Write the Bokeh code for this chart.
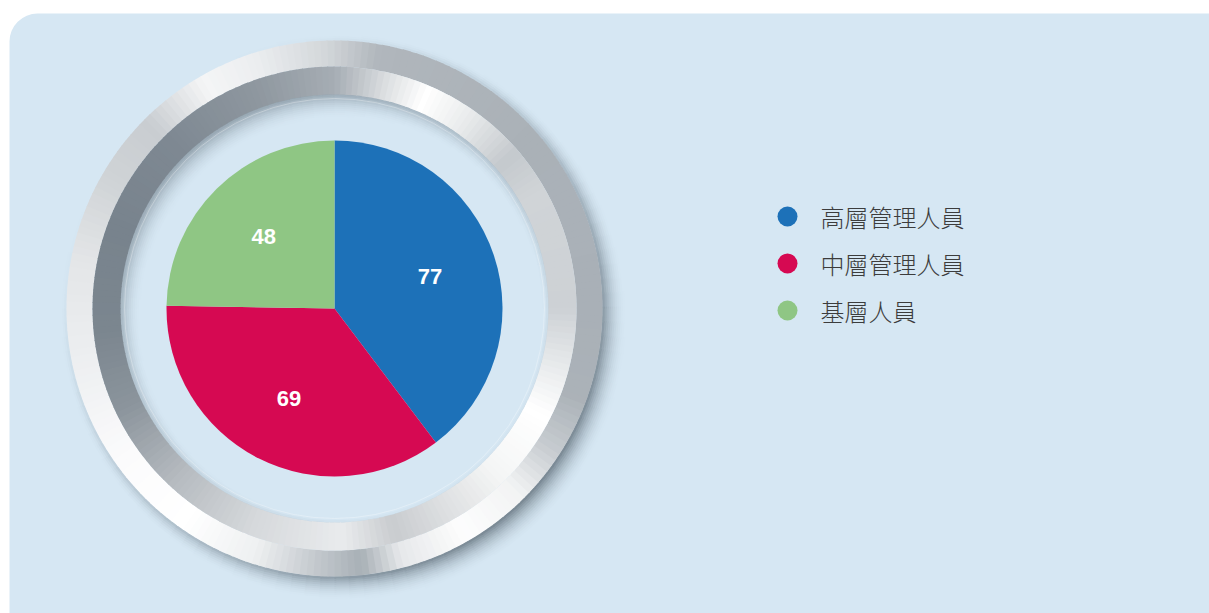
import numpy as np
from bokeh.plotting import figure
from bokeh.models import Range1d, BoxAnnotation, ColumnDataSource
from bokeh.core.properties import value
from bokeh.embed import file_html
from bokeh.resources import INLINE

# ---------------- data ----------------
categories = ["高層管理人員", "中層管理人員", "基層人員"]
counts = [77, 69, 48]
colors = ["#1d71b8", "#d60952", "#8fc684"]

# ---------------- figure ----------------
W, H = 1209, 613
CX, CY = 334, 308
BG = "#d6e7f3"
p = figure(width=W, height=H, output_backend="svg", toolbar_location=None,
           x_range=Range1d(-CX, W - CX), y_range=Range1d(CY - H, CY),
           x_axis_location=None, y_axis_location=None, min_border=0,
           background_fill_color="white", border_fill_color="white")
p.outline_line_color = None
p.grid.visible = False

# rounded light-blue panel
p.add_layout(BoxAnnotation(left=-325, right=1200, top=295, bottom=-600,
                           border_radius=28, fill_color=BG, fill_alpha=1,
                           line_color=None, level="underlay"))

# ---------------- metallic ring (decoration) ----------------
R_PIE = 168
R_IN, R_MID, R_OUT = 214, 242, 268


def hex2rgb(h):
    h = h.lstrip("#")
    return np.array([int(h[i:i + 2], 16) for i in (0, 2, 4)], dtype=float)


def to_hex(c):
    return "#%02x%02x%02x" % tuple(int(round(v)) for v in np.clip(c, 0, 255))


bg_rgb = hex2rgb(BG)
sh_rgb = hex2rgb("#4a5863")

NS = 120
s_st = np.arange(NS) * 2 * np.pi / NS
s_en = s_st + 2 * np.pi / NS * 1.12
s_mid = s_st + np.pi / NS


def shadow_band(r0, r1, strength):
    keep = strength > 0.004
    if not keep.any():
        return
    cols = [to_hex(bg_rgb + (sh_rgb - bg_rgb) * s) for s in strength[keep]]
    p.annular_wedge(x=0, y=0, inner_radius=r0, outer_radius=r1,
                    start_angle=s_st[keep], end_angle=s_en[keep], fill_color=cols,
                    line_color=None)


# outer drop shadow (strongest towards bottom-right)
dir_out = np.clip((1 + np.cos(s_mid - np.deg2rad(315))) / 2, 0, 1) ** 1.6
for r in np.arange(298, R_OUT - 1, -2.0):
    d = r - R_OUT
    reach = 4 + 24 * dir_out
    strength = 0.65 * dir_out * np.clip(1 - d / reach, 0, 1) ** 2
    shadow_band(r - 0.3, r + 2.3, strength)

# inner shadow cast onto the interior (strongest towards top-left)
dir_in = np.clip((1 + np.cos(s_mid - np.deg2rad(125))) / 2, 0, 1) ** 1.3
for r in np.arange(186, R_IN + 1, 2.0):
    d = R_IN - r
    reach = 4 + 24 * dir_in
    strength = 0.5 * (0.15 + 0.85 * dir_in) * np.clip(1 - d / reach, 0, 1) ** 2
    shadow_band(r - 0.3, r + 2.3, strength)


def gradient(keys, n=240):
    angs = np.array([k[0] for k in keys], dtype=float)
    rgb = np.array([hex2rgb(k[1]) for k in keys], dtype=float)
    t = np.linspace(0, 360, n, endpoint=False) + 180.0 / n
    out = []
    for a in t:
        c = [np.interp(a, angs, rgb[:, j]) for j in range(3)]
        out.append(to_hex(c))
    return out


outer_keys = [(0, "#a9b0b7"), (25, "#aab1b8"), (40, "#aab1b7"), (80, "#b0b6bc"),
              (92, "#d3d7da"), (108, "#eceef0"), (120, "#f4f5f6"), (135, "#c9cdd1"),
              (150, "#cfd3d6"), (170, "#e4e6e8"), (190, "#eceef0"), (215, "#fbfbfc"),
              (235, "#ffffff"), (252, "#eef0f1"), (266, "#c3c8cd"), (276, "#a8b0b6"),
              (285, "#e6e8ea"), (300, "#fdfdfd"), (315, "#f2f3f4"), (327, "#c7ccd0"),
              (340, "#abb2b8"), (360, "#a9b0b7")]
inner_keys = [(0, "#cdd1d5"), (30, "#d0d4d7"), (41, "#c4c9cd"), (55, "#e9ebec"),
              (67, "#ffffff"), (77, "#dcdfe1"), (90, "#a6adb4"), (110, "#8e979f"),
              (135, "#7e8892"), (160, "#78838d"), (185, "#7b868f"), (205, "#8b949c"),
              (228, "#b7bcc1"), (250, "#d6d9dc"), (272, "#e9ebed"), (285, "#c9cccf"),
              (298, "#dcdee0"), (315, "#f5f6f6"), (333, "#ffffff"), (348, "#e3e6e8"),
              (360, "#cdd1d5")]

N = 240
step = 2 * np.pi / N
starts = np.arange(N) * step
ends = starts + step * 1.15
p.annular_wedge(x=0, y=0, inner_radius=R_MID, outer_radius=R_OUT,
                start_angle=starts, end_angle=ends, fill_color=gradient(outer_keys, N),
                line_color=None)
p.annular_wedge(x=0, y=0, inner_radius=R_IN, outer_radius=R_MID,
                start_angle=starts, end_angle=ends, fill_color=gradient(inner_keys, N),
                line_color=None)
# faint highlight just inside the ring
p.circle(x=[0], y=[0], radius=R_IN - 4, fill_color=None, line_color="white",
         line_alpha=0.3, line_width=1)

# ---------------- pie ----------------
vals = np.array(counts, dtype=float)
frac = vals / vals.sum()
cum_end = np.cumsum(frac)
cum_start = cum_end - frac
a_top = np.pi / 2 - 2 * np.pi * cum_start
a_bot = np.pi / 2 - 2 * np.pi * cum_end
mid = (a_top + a_bot) / 2
src = ColumnDataSource(dict(cat=categories, val=counts, color=colors,
                            start=a_bot, end=a_top,
                            lx=0.6 * R_PIE * np.cos(mid), ly=0.6 * R_PIE * np.sin(mid),
                            txt=[str(v) for v in counts]))
p.wedge(x=0, y=0, radius=R_PIE, start_angle="start", end_angle="end",
        fill_color="color", line_color=None, source=src)
p.text(x="lx", y="ly", text="txt", source=src, text_color="white",
       text_font=value("Liberation Sans"), text_font_style="bold",
       text_font_size="22px", text_align="center", text_baseline="middle")

# ---------------- legend ----------------
leg_y = [92 - 47 * i for i in range(len(categories))]
lsrc = ColumnDataSource(dict(y=leg_y, cat=categories, color=colors))
p.scatter(x=453, y="y", size=20, marker="circle", fill_color="color",
          line_color=None, source=lsrc)
p.text(x=486, y="y", text="cat", source=lsrc, text_color="#3c3c3c",
       text_font=value("Noto Sans CJK TC Light"), text_font_size="24px",
       text_align="left", text_baseline="middle")

open("out.html", "w").write(file_html(p, INLINE))
